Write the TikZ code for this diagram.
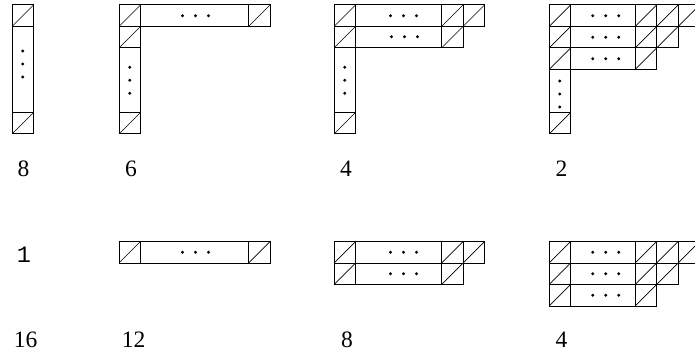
\documentclass[tikz,border=0pt]{standalone}
\usepackage{fontspec}
\setmainfont{Liberation Serif}
\newfontfamily\monofont{Liberation Mono}
\begin{document}
\begin{tikzpicture}[x=1pt,y=-1pt,
  cellbox/.style={draw, line width=1pt, minimum width=21.5pt, minimum height=21.5pt,
    inner sep=0pt, outer sep=0pt, anchor=north west,
    path picture={\draw[line width=0.7pt] (path picture bounding box.south west) -- (path picture bounding box.north east);}},
  midbox/.style={draw, line width=1pt, minimum height=21.5pt, inner sep=0pt, outer sep=0pt, anchor=north west},
  hmid/.style={midbox, minimum width=#1},
  vmid/.style={draw, line width=1pt, minimum width=21.5pt, minimum height=#1, inner sep=0pt, outer sep=0pt, anchor=north west},
  lab/.style={font=\fontsize{23.5}{26}\selectfont, inner sep=0pt},
  dotc/.style={fill=black}
]
\clip (0,0) rectangle (695,355);

% ---------- top row ----------
% diagram 1 (8)
\node[cellbox] (a1) at (12,5) {};
\node[vmid=86pt] (a2) at (12,26.5) {};
\node[cellbox] (a3) at (12,112.5) {};
\foreach \k in {-13,0,13}{\fill[dotc] ([yshift=-(-5.5+\k)*1pt]a2.center) circle (1.6);}

% diagram 2 (6)
\node[cellbox] (b1) at (119,5) {};
\node[hmid=108pt] (b2) at (140.5,5) {};
\node[cellbox] (b3) at (248.5,5) {};
\node[cellbox] (b4) at (119,26.5) {};
\node[vmid=64.5pt] (b5) at (119,48) {};
\node[cellbox] (b6) at (119,112.5) {};
\foreach \k in {-13,0,13}{\fill[dotc] ([xshift=(1+\k)*1pt]b2.center) circle (1.6);}
\foreach \k in {-13,0,13}{\fill[dotc] ([yshift=-\k*1pt]b5.center) circle (1.6);}

% diagram 3 (4)
\node[cellbox] (c1) at (334,5) {};
\node[hmid=86pt] (c2) at (355.5,5) {};
\node[cellbox] (c3) at (441.5,5) {};
\node[cellbox] (c4) at (463,5) {};
\node[cellbox] (c5) at (334,26.5) {};
\node[hmid=86pt] (c6) at (355.5,26.5) {};
\node[cellbox] (c7) at (441.5,26.5) {};
\node[vmid=64.5pt] (c8) at (334,48) {};
\node[cellbox] (c9) at (334,112.5) {};
\foreach \k in {-13,0,13}{\fill[dotc] ([xshift=(5+\k)*1pt]c2.center) circle (1.6);}
\foreach \k in {-13,0,13}{\fill[dotc] ([xshift=(6+\k)*1pt,yshift=0.5pt]c6.center) circle (1.6);}
\foreach \k in {-13,0,13}{\fill[dotc] ([yshift=-\k*1pt]c8.center) circle (1.6);}

% diagram 4 (2)
\node[cellbox] (d1) at (549,5) {};
\node[hmid=64.5pt] (d2) at (570.5,5) {};
\node[cellbox] (d3) at (635,5) {};
\node[cellbox] (d4) at (656.5,5) {};
\node[cellbox] (d5) at (678,5) {};
\node[cellbox] (d6) at (549,26.5) {};
\node[hmid=64.5pt] (d7) at (570.5,26.5) {};
\node[cellbox] (d8) at (635,26.5) {};
\node[cellbox] (d9) at (656.5,26.5) {};
\node[cellbox] (d10) at (549,48) {};
\node[hmid=64.5pt] (d11) at (570.5,48) {};
\node[cellbox] (d12) at (635,48) {};
\node[vmid=43pt] (d13) at (549,69.5) {};
\node[cellbox] (d14) at (549,112.5) {};
\foreach \k in {-13,0,13}{\fill[dotc] ([xshift=(3+\k)*1pt]d2.center) circle (1.6);}
\foreach \k in {-13,0,13}{\fill[dotc] ([xshift=(3+\k)*1pt]d7.center) circle (1.6);}
\foreach \k in {-13,0,13}{\fill[dotc] ([xshift=(3+\k)*1pt]d11.center) circle (1.6);}
\foreach \k in {-13,0,13}{\fill[dotc] ([yshift=-(3+\k)*1pt]d13.center) circle (1.6);}

% labels top
\node[lab] (l8) at (23.5,169) {8};
\node[lab] (l6) at (131,169) {6};
\node[lab] (l4) at (346,169) {4};
\node[lab] (l2) at (561.5,169) {2};

% ---------- bottom row ----------
\node[lab, font=\fontsize{23.5}{26}\monofont] (l1) at (24,255) {1};

% diagram 12
\node[cellbox] (e1) at (119,241.5) {};
\node[hmid=108pt] (e2) at (140.5,241.5) {};
\node[cellbox] (e3) at (248.5,241.5) {};
\foreach \k in {-13,0,13}{\fill[dotc] ([xshift=(1+\k)*1pt]e2.center) circle (1.6);}

% diagram 8
\node[cellbox] (f1) at (334,241.5) {};
\node[hmid=86pt] (f2) at (355.5,241.5) {};
\node[cellbox] (f3) at (441.5,241.5) {};
\node[cellbox] (f4) at (463,241.5) {};
\node[cellbox] (f5) at (334,263) {};
\node[hmid=86pt] (f6) at (355.5,263) {};
\node[cellbox] (f7) at (441.5,263) {};
\foreach \k in {-13,0,13}{\fill[dotc] ([xshift=(5+\k)*1pt]f2.center) circle (1.6);}
\foreach \k in {-13,0,13}{\fill[dotc] ([xshift=(5+\k)*1pt]f6.center) circle (1.6);}

% diagram 4
\node[cellbox] (g1) at (549,241.5) {};
\node[hmid=64.5pt] (g2) at (570.5,241.5) {};
\node[cellbox] (g3) at (635,241.5) {};
\node[cellbox] (g4) at (656.5,241.5) {};
\node[cellbox] (g5) at (678,241.5) {};
\node[cellbox] (g6) at (549,263) {};
\node[hmid=64.5pt] (g7) at (570.5,263) {};
\node[cellbox] (g8) at (635,263) {};
\node[cellbox] (g9) at (656.5,263) {};
\node[cellbox] (g10) at (549,284.5) {};
\node[hmid=64.5pt] (g11) at (570.5,284.5) {};
\node[cellbox] (g12) at (635,284.5) {};
\foreach \k in {-13,0,13}{\fill[dotc] ([xshift=(3+\k)*1pt]g2.center) circle (1.6);}
\foreach \k in {-13,0,13}{\fill[dotc] ([xshift=(3+\k)*1pt]g7.center) circle (1.6);}
\foreach \k in {-13,0,13}{\fill[dotc] ([xshift=(3+\k)*1pt]g11.center) circle (1.6);}

% labels bottom
\node[lab] (l16) at (25.5,340) {16};
\node[lab] (l12) at (133.5,340) {12};
\node[lab] (l8b) at (347,340) {8};
\node[lab] (l4b) at (561.5,340) {4};
\end{tikzpicture}
\end{document}
